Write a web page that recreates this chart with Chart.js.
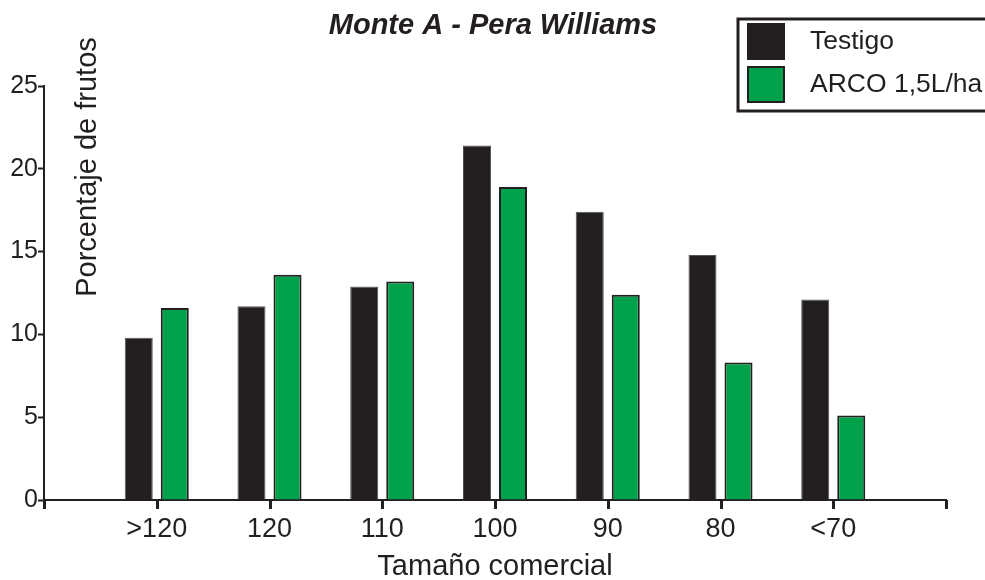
<!DOCTYPE html>
<html>
<head>
<meta charset="utf-8">
<script src="https://cdn.jsdelivr.net/npm/chart.js@4.4.0/dist/chart.umd.min.js"></script>
<style>
  html, body { margin: 0; padding: 0; background: #fff; }
  #wrap { position: relative; width: 985px; height: 580px; }
</style>
</head>
<body>
<div id="wrap"><canvas id="frutosChart"></canvas></div>
<script>
const categories = [">120", "120", "110", "100", "90", "80", "<70"];
const testigo = [9.8, 11.7, 12.9, 21.4, 17.4, 14.8, 12.1];
const arco = [11.6, 13.6, 13.2, 18.9, 12.4, 8.3, 5.1];
const yTicks = [0, 5, 10, 15, 20, 25];

const INK = "#231f20";
const GREEN = "#00a14b";
const FONT = "'Liberation Sans', Arial, sans-serif";

// empty slots at both ends so the axis runs one category past the data
const labels = ["", ...categories, ""];
const pad = arr => [null, ...arr, null];

// title, rotated y title, x tick marks and boxed legend drawn by hand
const decorations = {
  id: "decorations",
  afterDraw(chart) {
    const ctx = chart.ctx;
    const xs = chart.scales.x;
    ctx.save();

    ctx.fillStyle = INK;
    labels.forEach((lab, i) => {
      const px = Math.round(xs.getPixelForValue(i));
      ctx.fillRect(px - 1, xs.top, 3, 9);
    });

    ctx.font = "italic bold 29px " + FONT;
    ctx.textAlign = "center";
    ctx.textBaseline = "middle";
    ctx.fillText("Monte A - Pera Williams", 493, 26);

    ctx.save();
    ctx.translate(88, 167);
    ctx.rotate(-Math.PI / 2);
    ctx.font = "29px " + FONT;
    ctx.fillText("Porcentaje de frutos", 0, 0);
    ctx.restore();

    ctx.fillStyle = "#fff";
    ctx.fillRect(738, 19, 260, 92);
    ctx.strokeStyle = INK;
    ctx.lineWidth = 3;
    ctx.strokeRect(738, 19, 260, 92);

    const ds = chart.data.datasets;
    const rows = [23, 66];
    ctx.font = "26.5px " + FONT;
    ctx.textAlign = "left";
    ds.forEach((d, i) => {
      ctx.fillStyle = d.backgroundColor;
      ctx.fillRect(747, rows[i], 38, 37);
      ctx.lineWidth = 2;
      ctx.strokeStyle = INK;
      ctx.strokeRect(748, rows[i] + 1, 36, 35);
      ctx.fillStyle = INK;
      ctx.fillText(d.label, 810, rows[i] + 19);
    });
    ctx.restore();
  }
};

const chartCtx = document.getElementById("frutosChart").getContext("2d");

new Chart(chartCtx, {
  type: "bar",
  data: {
    labels: labels,
    datasets: [{
      label: "Testigo",
      data: pad(testigo),
      backgroundColor: INK,
      borderColor: "#555",
      borderWidth: 1
    }, {
      label: "ARCO 1,5L/ha",
      data: pad(arco),
      backgroundColor: GREEN,
      borderColor: INK,
      borderWidth: 2
    }]
  },
  options: {
    responsive: true,
    maintainAspectRatio: false,
    animation: false,
    layout: {
      padding: { top: 86, right: 39, left: 0, bottom: 0 }
    },
    datasets: {
      bar: {
        categoryPercentage: 0.639,
        barPercentage: 0.778
      }
    },
    scales: {
      x: {
        offset: false,
        afterFit: scale => { scale.height = 80; },
        border: { display: true, color: INK, width: 2 },
        grid: {
          display: false,
          tickLength: 8
        },
        ticks: {
          color: INK,
          padding: 5,
          maxRotation: 0,
          autoSkip: false,
          font: { family: FONT, size: 27 }
        },
        title: {
          display: true,
          text: "Tamaño comercial",
          color: INK,
          padding: { top: 0, bottom: 0 },
          font: { family: FONT, size: 29, lineHeight: 0.9 }
        }
      },
      y: {
        min: 0,
        max: 25,
        afterFit: scale => { scale.width = 44; },
        afterBuildTicks: scale => {
          scale.ticks = yTicks.map(v => ({ value: v }));
        },
        border: { display: true, color: INK, width: 2 },
        grid: {
          drawOnChartArea: false,
          drawTicks: true,
          tickLength: 6,
          tickWidth: 2,
          tickColor: INK
        },
        ticks: {
          color: INK,
          padding: 0,
          font: { family: FONT, size: 25 }
        }
      }
    },
    plugins: {
      legend: { display: false },
      title: { display: false },
      tooltip: { enabled: false }
    }
  },
  plugins: [decorations]
});
</script>
</body>
</html>
